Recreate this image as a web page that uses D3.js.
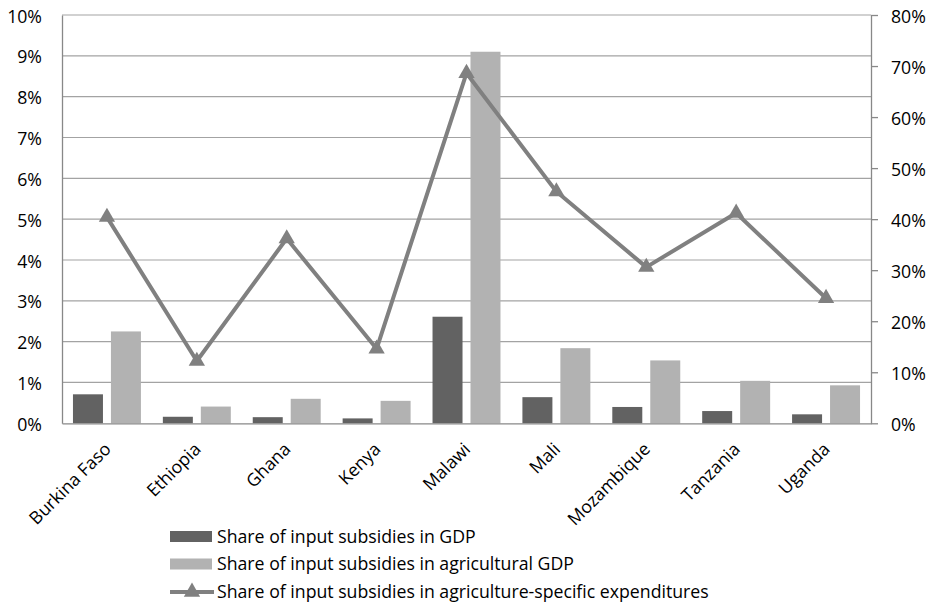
<!DOCTYPE html>
<html>
<head>
<meta charset="utf-8">
<script src="https://cdn.jsdelivr.net/npm/d3@7"></script>
<style>
  html, body { margin: 0; padding: 0; background: #ffffff; }
  svg { display: block; font-family: "Open Sans", Lato, sans-serif; }
</style>
</head>
<body>
<svg id="chart" width="931" height="605"></svg>
<script>
// Input subsidy shares by country
const countries = ["Burkina Faso", "Ethiopia", "Ghana", "Kenya", "Malawi", "Mali", "Mozambique", "Tanzania", "Uganda"];
const shareGDP = [0.71, 0.16, 0.15, 0.12, 2.61, 0.64, 0.40, 0.30, 0.22];          // % of GDP
const shareAgGDP = [2.25, 0.41, 0.60, 0.55, 9.10, 1.84, 1.54, 1.04, 0.93];         // % of agricultural GDP
const shareAgExp = [40.4, 12.2, 36.2, 14.6, 68.6, 45.4, 30.6, 41.2, 24.5];          // % of agriculture-specific expenditures
const leftTicks = [0, 1, 2, 3, 4, 5, 6, 7, 8, 9, 10];
const rightTicks = [0, 10, 20, 30, 40, 50, 60, 70, 80];
const seriesNames = [
  "Share of input subsidies in GDP",
  "Share of input subsidies in agricultural GDP",
  "Share of input subsidies in agriculture-specific expenditures"
];

const colors = { dark: "#626262", light: "#b2b2b2", line: "#808080", grid: "#a3a3a3", axis: "#888888" };
const font = "'Open Sans', Lato, sans-serif";
const fontSize = 17.7;

const svg = d3.select("#chart");
const plot = { left: 62, right: 871, top: 15, bottom: 423.3 };

const x = d3.scaleBand().domain(countries).range([plot.left, plot.right]).padding(0);
const bw = x.bandwidth();
const edge = bw * 0.122;
const x1 = d3.scaleBand().domain(["gdp", "ag"]).range([edge, bw - edge]).paddingInner(0.21);
const yL = d3.scaleLinear().domain([0, 10]).range([plot.bottom, plot.top]);
const yR = d3.scaleLinear().domain([0, 80]).range([plot.bottom, plot.top]);

// horizontal gridlines from the left axis
svg.append("g")
  .selectAll("line")
  .data(leftTicks.filter(d => d > 0))
  .join("line")
  .attr("x1", plot.left).attr("x2", plot.right)
  .attr("y1", d => yL(d)).attr("y2", d => yL(d))
  .attr("stroke", colors.grid).attr("stroke-width", 1.2);

// bars
const rows = countries.map((c, i) => ({ c, gdp: shareGDP[i], ag: shareAgGDP[i], exp: shareAgExp[i] }));
const groups = svg.append("g").selectAll("g").data(rows).join("g")
  .attr("transform", d => `translate(${x(d.c)},0)`);
groups.append("rect")
  .attr("x", x1("gdp")).attr("width", x1.bandwidth())
  .attr("y", d => yL(d.gdp)).attr("height", d => yL(0) - yL(d.gdp))
  .attr("fill", colors.dark);
groups.append("rect")
  .attr("x", x1("ag")).attr("width", x1.bandwidth())
  .attr("y", d => yL(d.ag)).attr("height", d => yL(0) - yL(d.ag))
  .attr("fill", colors.light);

// left axis
const leftAxis = svg.append("g")
  .attr("transform", `translate(${plot.left},0)`)
  .call(d3.axisLeft(yL).tickValues(leftTicks).tickSize(0).tickPadding(20).tickFormat(d => d + "%"));
leftAxis.select(".domain").attr("stroke", colors.axis).attr("stroke-width", 1.3);
leftAxis.selectAll("text").attr("font-size", fontSize).attr("fill", "#000").attr("font-family", font).attr("dy", "0.4em");

// right axis
const rightAxis = svg.append("g")
  .attr("transform", `translate(${plot.right},0)`)
  .call(d3.axisRight(yR).tickValues(rightTicks).tickSize(7).tickSizeOuter(0).tickPadding(13).tickFormat(d => d + "%"));
rightAxis.select(".domain").attr("stroke", colors.axis).attr("stroke-width", 1.3);
rightAxis.selectAll(".tick line").attr("stroke", colors.axis).attr("stroke-width", 1.3);
rightAxis.selectAll("text").attr("font-size", fontSize).attr("fill", "#000").attr("font-family", font).attr("dy", "0.4em");

// category axis along zero
const bottomAxis = svg.append("g")
  .attr("transform", `translate(0,${plot.bottom})`)
  .call(d3.axisBottom(x).tickSize(0).tickSizeOuter(0));
bottomAxis.select(".domain").attr("stroke", colors.axis).attr("stroke-width", 1.3);
bottomAxis.selectAll("text")
  .attr("font-size", fontSize).attr("fill", "#000").attr("font-family", font)
  .attr("text-anchor", "end")
  .attr("dy", 0).attr("y", 0)
  .attr("transform", "translate(5,27) rotate(-45)");

// expenditure share line on the right scale
const line = d3.line().x(d => x(d.c) + bw / 2).y(d => yR(d.exp));
svg.append("path").datum(rows)
  .attr("d", line).attr("fill", "none")
  .attr("stroke", colors.line).attr("stroke-width", 4).attr("stroke-linejoin", "round");
const tri = d3.symbol().type(d3.symbolTriangle).size(115);
svg.append("g").selectAll("path").data(rows).join("path")
  .attr("d", tri)
  .attr("transform", d => `translate(${x(d.c) + bw / 2},${yR(d.exp)})`)
  .attr("fill", colors.line);

// legend
const legend = svg.append("g").attr("transform", "translate(170,0)");
const legendRows = [536.5, 564, 592];
legend.append("rect").attr("x", 0).attr("y", legendRows[0] - 5.5).attr("width", 42).attr("height", 11).attr("fill", colors.dark);
legend.append("rect").attr("x", 0).attr("y", legendRows[1] - 5.5).attr("width", 42).attr("height", 11).attr("fill", colors.light);
legend.append("line").attr("x1", 0).attr("x2", 44).attr("y1", legendRows[2]).attr("y2", legendRows[2])
  .attr("stroke", colors.line).attr("stroke-width", 4);
legend.append("path").attr("d", tri).attr("transform", `translate(22,${legendRows[2]})`).attr("fill", colors.line);
legend.selectAll("text.lab").data(seriesNames).join("text")
  .attr("class", "lab")
  .attr("x", 47).attr("y", (d, i) => legendRows[i]).attr("dy", "0.36em")
  .attr("font-size", fontSize).attr("font-family", font).attr("fill", "#000")
  .text(d => d);
</script>
</body>
</html>
